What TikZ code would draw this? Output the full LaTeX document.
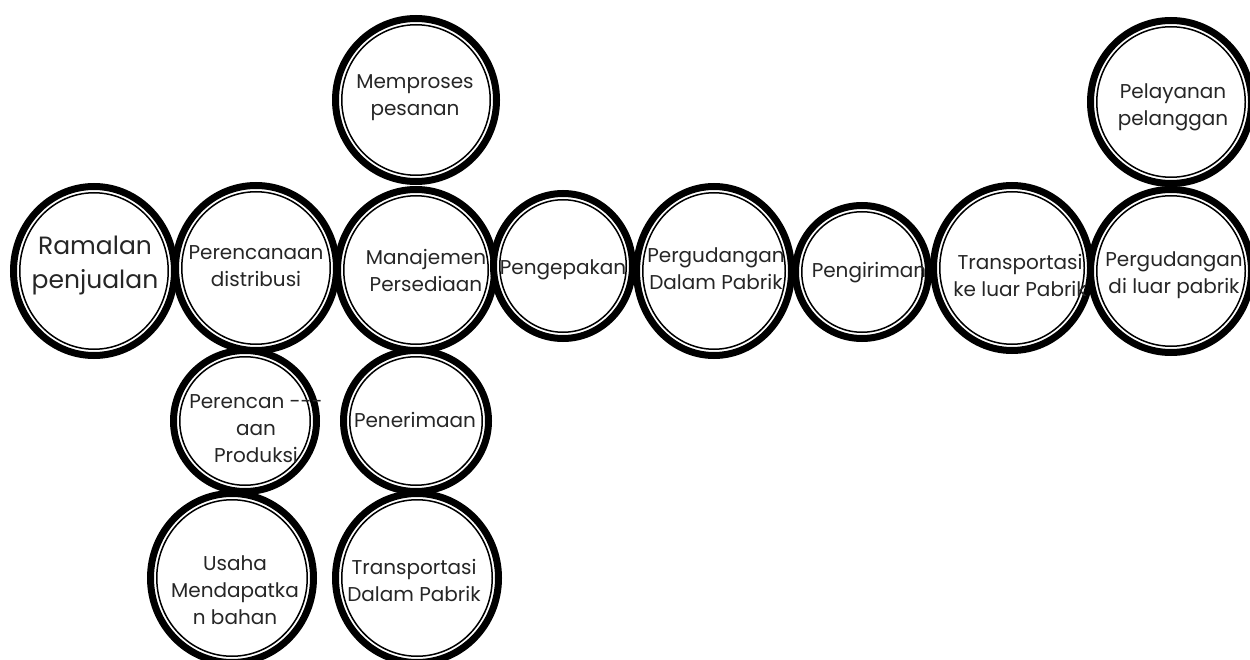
\documentclass[tikz,border=0pt]{standalone}
\usepackage{fontspec}
\setmainfont{Poppins}
\usetikzlibrary{shapes.geometric}
\newcommand\ringnode[5]{%
  \node[ringshape, minimum width={2*(#4)-7}, minimum height={2*(#5)-7}] (#1) at (#2,#3) {};
  \draw[line width=1.5pt] (#1.center) ellipse [x radius={#4-9.75}, y radius={#5-9.75}];
}
\begin{document}
\begin{tikzpicture}[x=1pt,y=-1pt,
  ringshape/.style={ellipse, draw=black, line width=7pt, fill=white, inner sep=0pt},
  lbl/.style={align=center, text=black!85, font=\fontsize{20}{27}\selectfont, inner sep=0pt}]
\useasboundingbox[fill=white] (0,0) rectangle (1250,660);
% rings
\ringnode{c1}{94}{271}{84}{88}
\ringnode{c2}{256}{268}{84}{86}
\ringnode{c3}{416}{100}{84}{85}
\ringnode{c4}{416}{270}{82}{84}
\ringnode{c5}{563}{266}{73}{76}
\ringnode{c6}{714}{271}{81}{88}
\ringnode{c7}{862}{272}{70}{70}
\ringnode{c8}{1012}{268}{82}{86}
\ringnode{c9}{1171}{271}{84}{85}
\ringnode{c10}{1171}{102}{84}{85}
\ringnode{c11}{245}{421}{75}{74}
\ringnode{c12}{416}{421}{76}{74}
\ringnode{c13}{232}{578}{85}{88}
\ringnode{c14}{417}{578}{85}{88}
% labels
\node[lbl, font=\fontsize{25}{34}\selectfont] (t1) at (95,266) {Ramalan\\penjualan};
\node[lbl] (t2) at (256,266) {Perencanaan\\distribusi};
\node[lbl] (t3) at (415,98) {Memproses\\pesanan};
\node[lbl] (t4) at (426,270) {Manajemen\\Persediaan};
\node[lbl] (t5) at (563,270) {Pengepakan};
\node[lbl] (t6) at (716,269) {Pergudangan\\Dalam Pabrik};
\node[lbl] (t7) at (869,273) {Pengiriman};
\node[lbl] (t8) at (1020,275) {Transportasi\\ke luar Pabrik};
\node[lbl] (t9) at (1174,275) {Pergudangan\\di luar pabrik};
\node[lbl] (t10) at (1173,107) {Pelayanan\\pelanggan};
\node[lbl] (t11) at (256,429) {Perencan -{}-{}-\\aan\\Produksi};
\node[lbl] (t12) at (415,420) {Penerimaan};
\node[lbl] (t13) at (235,590) {Usaha\\Mendapatka\\n bahan};
\node[lbl] (t14) at (414,580) {Transportasi\\Dalam Pabrik};
\end{tikzpicture}
\end{document}
